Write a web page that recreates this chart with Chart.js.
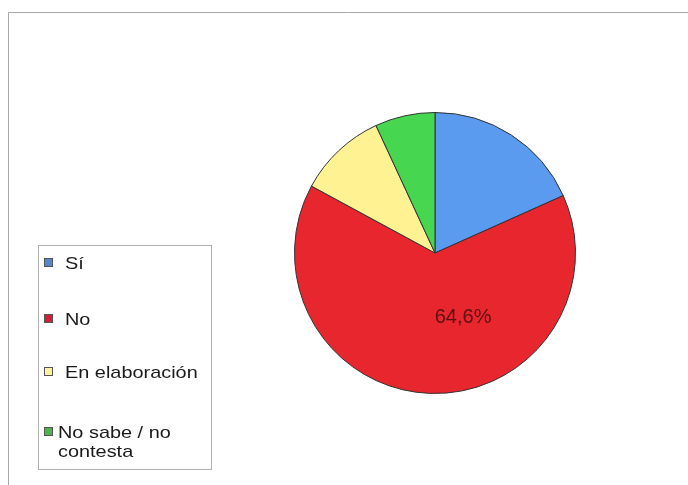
<!DOCTYPE html>
<html>
<head>
<meta charset="utf-8">
<script src="https://cdn.jsdelivr.net/npm/chart.js@4/dist/chart.umd.min.js"></script>
<style>
body { margin: 0; background: #fff; }
#wrap { position: relative; width: 688px; height: 485px; }
</style>
</head>
<body>
<div id="wrap"><canvas id="grafico" width="688" height="485"></canvas></div>
<script>
// datos
var categorias = ["Sí", "No", "En elaboración", ["No sabe / no", "contesta"]]
var porcentajes = [18.3, 64.6, 10.2, 6.9]
var colores = ["#5a9bf0", "#e8262e", "#fef292", "#47d650"]
var coloresLeyenda = ["#5586cc", "#cf2038", "#fbf3a0", "#4fb24f"]
var etiquetaVisible = [false, true, false, false] // solo el rojo lleva el porcentaje

// marco gris del fondo
const marco = {
    id: "marco",
    beforeDraw(chart) {
        let ctx = chart.ctx
        ctx.save()
        ctx.strokeStyle = "#a8a8a8"
        ctx.lineWidth = 1
        ctx.beginPath()
        ctx.moveTo(8.5, 485)
        ctx.lineTo(8.5, 12.5)
        ctx.lineTo(688, 12.5)
        ctx.stroke()
        ctx.restore()
    }
}

// porcentaje dentro de la porción
const etiquetas = {
    id: "etiquetas",
    afterDatasetsDraw(chart) {
        let ctx = chart.ctx
        let meta = chart.getDatasetMeta(0)
        ctx.save()
        ctx.font = "20px 'Liberation Sans', Arial, sans-serif"
        ctx.fillStyle = "#5a0e12"
        ctx.textAlign = "center"
        ctx.textBaseline = "middle"
        meta.data.forEach((arco, i) => {
            if (!etiquetaVisible[i]) return
            let r = arco.outerRadius
            let texto = porcentajes[i].toFixed(1).replace(".", ",") + "%"
            ctx.fillText(texto, arco.x + 0.2 * r, arco.y + 0.46 * r)
        })
        ctx.restore()
    }
}

// leyenda dibujada a mano en la caja de la izquierda
const leyenda = {
    id: "leyenda",
    afterDraw(chart) {
        let ctx = chart.ctx
        let base = [269, 325, 378, 438]
        let textoX = [65, 65, 65, 58]
        ctx.save()
        ctx.strokeStyle = "#b0b0b0"
        ctx.lineWidth = 1
        ctx.strokeRect(38.5, 245.5, 173, 224)
        ctx.font = "17px 'Liberation Sans', Arial, sans-serif"
        ctx.textBaseline = "alphabetic"
        categorias.forEach((cat, i) => {
            ctx.fillStyle = coloresLeyenda[i]
            ctx.fillRect(44.5, base[i] - 10.5, 8, 8)
            ctx.strokeStyle = "#555"
            ctx.strokeRect(44.5, base[i] - 10.5, 8, 8)
            ctx.fillStyle = "#1a1a1a"
            let lineas = Array.isArray(cat) ? cat : [cat]
            lineas.forEach((l, j) => {
                ctx.save()
                ctx.translate(textoX[i], base[i] + j * 19)
                ctx.scale(1.17, 1)
                ctx.fillText(l, 0, 0)
                ctx.restore()
            })
        })
        ctx.restore()
    }
}

new Chart(document.getElementById("grafico"), {
    type: "pie",
    data: {
        labels: categorias.map(c => Array.isArray(c) ? c.join(" ") : c),
        datasets: [{
            data: porcentajes,
            backgroundColor: colores,
            borderColor: "#333",
            borderWidth: 1,
            hoverOffset: 0
        }]
    },
    options: {
        responsive: false,
        animation: false,
        layout: { padding: { left: 294, right: 112, top: 112, bottom: 91 } },
        plugins: {
            legend: { display: false },
            tooltip: { enabled: false }
        }
    },
    plugins: [marco, etiquetas, leyenda]
})
</script>
</body>
</html>
